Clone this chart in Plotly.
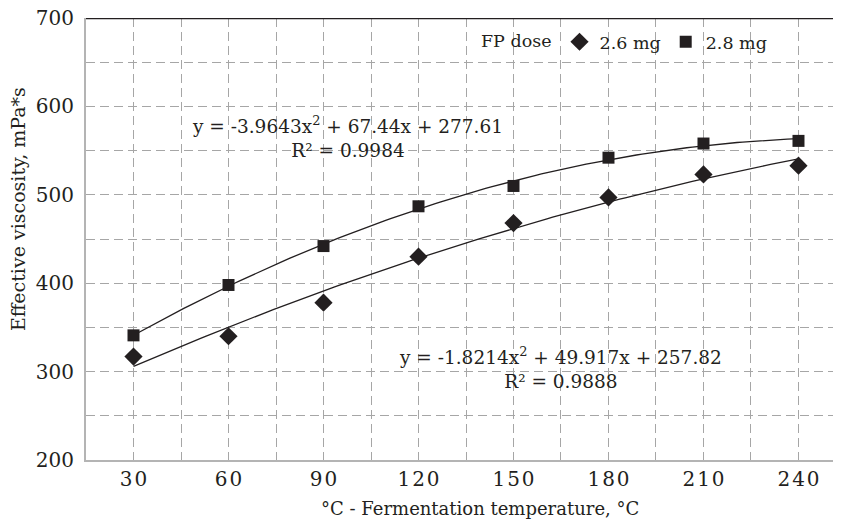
import numpy as np
import plotly.graph_objects as go

# fermentation temperature categories (x)
temperature = [30, 60, 90, 120, 150, 180, 210, 240]
tick_labels = ["30", "60", "90", "120", "150", "180", "210", "240"]

# effective viscosity, mPa*s
visc_26 = [317, 340, 378, 430, 468, 497, 523, 533]
visc_28 = [341, 398, 442, 487, 510, 542, 558, 561]

# polynomial trendlines as printed on the chart (x = point index 1..8)
coef_26 = [-1.8214, 49.917, 257.82]
coef_28 = [-3.9643, 67.44, 277.61]
r2_26 = 0.9888
r2_28 = 0.9984

INK = "#231f20"
GRID = "#a6a6a6"
AXIS = "#b4b4b4"
FONT = "DejaVu Serif"
DASH = "9px,5px"


def trend(coef, n_points):
    idx = np.linspace(1, n_points, 120)
    x = np.interp(idx, np.arange(1, n_points + 1), temperature)
    y = coef[0] * idx**2 + coef[1] * idx + coef[2]
    return x, y


def eq_text(coef, r2):
    def num(v):
        return f"{abs(v):g}"
    return (f"y = -{num(coef[0])}x<sup>2</sup> + {num(coef[1])}x + {num(coef[2])}"
            f"<br>R² = {r2:.4f}")


def note(fig, x, y, text, size, angle=0):
    fig.add_annotation(x=x, y=y, xref="paper", yref="paper", showarrow=False,
                       xanchor="center", yanchor="middle", text=text,
                       textangle=angle, align="center",
                       font=dict(family=FONT, size=size, color=INK))


fig = go.Figure()

for coef in (coef_26, coef_28):
    tx, ty = trend(coef, len(temperature))
    fig.add_trace(go.Scatter(x=tx, y=ty, mode="lines", showlegend=False,
                             line=dict(color=INK, width=1.3), hoverinfo="skip"))

fig.add_trace(go.Scatter(x=temperature, y=visc_26, mode="markers", name="2.6 mg",
                         marker=dict(symbol="diamond", size=14, color=INK)))
fig.add_trace(go.Scatter(x=temperature, y=visc_28, mode="markers", name="2.8 mg",
                         marker=dict(symbol="square", size=12, color=INK)))

# thick top border at 700
fig.add_shape(type="line", xref="paper", yref="y", x0=0, x1=1, y0=700, y1=700,
              line=dict(color=INK, width=2.5))

note(fig, 0.343, 0.731, eq_text(coef_28, r2_28), 18.5)
note(fig, 0.6225, 0.209, eq_text(coef_26, r2_26), 18.5)

# axis titles
note(fig, -0.089, 0.568, "Effective viscosity, mPa*s", 19, angle=-90)
note(fig, 0.516, -0.109, "°C - Fermentation temperature, °C", 18)

fig.update_xaxes(
    range=[15, 255.95], automargin=False,
    tickmode="array", tickvals=temperature,
    ticktext=["\u200a".join(t) for t in tick_labels],
    showgrid=True, gridcolor=GRID, griddash=DASH, gridwidth=1,
    minor=dict(dtick=15, tick0=15, showgrid=True, gridcolor=GRID,
               griddash=DASH, gridwidth=1),
    showline=True, linecolor=AXIS, linewidth=2,
    ticks="", zeroline=False, ticklabeloverflow="allow",
    tickfont=dict(family=FONT, size=20, color=INK),
)
fig.update_yaxes(
    range=[200, 700], dtick=100, tick0=200, automargin=False,
    showgrid=True, gridcolor=GRID, griddash=DASH, gridwidth=1,
    minor=dict(dtick=50, showgrid=True, gridcolor=GRID,
               griddash=DASH, gridwidth=1),
    showline=True, linecolor=AXIS, linewidth=2,
    ticks="", zeroline=False, ticklabelstandoff=6, ticklabeloverflow="allow",
    tickfont=dict(family=FONT, size=20, color=INK),
)

fig.update_layout(
    width=841, height=524,
    margin=dict(l=78, r=0, t=10, b=72),
    plot_bgcolor="white", paper_bgcolor="white",
    font=dict(family=FONT, size=18, color=INK),
    legend=dict(orientation="h", x=0.515, xanchor="left", y=0.946, yanchor="middle",
                bgcolor="rgba(0,0,0,0)", itemwidth=30,
                title=dict(text="FP dose", font=dict(family=FONT, size=17.5, color=INK)),
                font=dict(family=FONT, size=17.5, color=INK)),
)

fig.write_html("out.html")
